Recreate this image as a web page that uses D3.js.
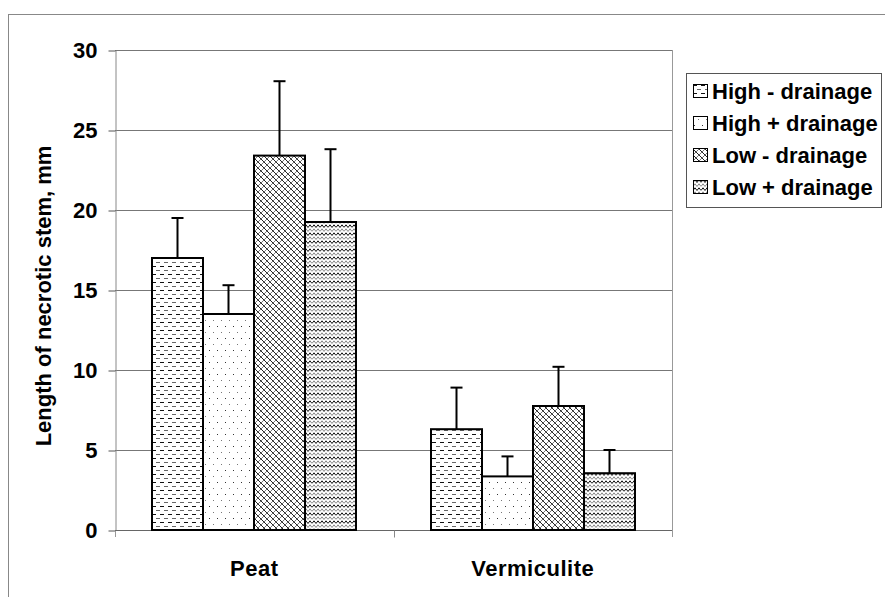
<!DOCTYPE html>
<html>
<head>
<meta charset="utf-8">
<script src="https://cdn.jsdelivr.net/npm/d3@7/dist/d3.min.js"></script>
<style>
  html, body { margin: 0; padding: 0; background: #fff; }
  svg { display: block; }
  text { font-family: "Liberation Sans", Arial, sans-serif; font-weight: bold; fill: #000; }
</style>
</head>
<body>
<svg id="chart" width="885" height="597"></svg>
<script>
// Substrate groups and treatment series
const categories = ["Peat", "Vermiculite"];
const seriesNames = ["High - drainage", "High + drainage", "Low - drainage", "Low + drainage"];
// Mean length of necrotic stem (mm), one array per treatment: [Peat, Vermiculite]
const highMinus = [17.0, 6.3];
const highPlus = [13.5, 3.35];
const lowMinus = [23.4, 7.75];
const lowPlus = [19.25, 3.55];
// Standard error bars (upper only)
const highMinusErr = [2.5, 2.6];
const highPlusErr = [1.8, 1.25];
const lowMinusErr = [4.65, 2.45];
const lowPlusErr = [4.55, 1.45];
const yTicks = [0, 5, 10, 15, 20, 25, 30];

const seriesValues = [highMinus, highPlus, lowMinus, lowPlus];
const seriesErrors = [highMinusErr, highPlusErr, lowMinusErr, lowPlusErr];
const patternIds = ["pat-hm", "pat-hp", "pat-lm", "pat-lp"];

const svg = d3.select("#chart");
const defs = svg.append("defs");

// Horizontal dashes, alternating dark and grey rows
{
  const p = defs.append("pattern").attr("id", "pat-hm").attr("patternUnits", "userSpaceOnUse")
    .attr("width", 8).attr("height", 8);
  p.append("rect").attr("width", 8).attr("height", 8).attr("fill", "#fff");
  p.append("path").attr("d", "M0,2.5h4").attr("stroke", "#111").attr("stroke-width", 1);
  p.append("path").attr("d", "M4,6.5h4").attr("stroke", "#666").attr("stroke-width", 1);
}
// Sparse dots
{
  const p = defs.append("pattern").attr("id", "pat-hp").attr("patternUnits", "userSpaceOnUse")
    .attr("width", 8).attr("height", 12);
  p.append("rect").attr("width", 8).attr("height", 12).attr("fill", "#fff");
  p.append("rect").attr("x", 1).attr("y", 2).attr("width", 1).attr("height", 1).attr("fill", "#333");
  p.append("rect").attr("x", 5).attr("y", 8).attr("width", 1).attr("height", 1).attr("fill", "#777");
}
// Diagonal cross-hatch
{
  const p = defs.append("pattern").attr("id", "pat-lm").attr("patternUnits", "userSpaceOnUse")
    .attr("width", 6).attr("height", 6);
  p.append("rect").attr("width", 6).attr("height", 6).attr("fill", "#fff");
  p.append("path").attr("d", "M0,0L6,6M-1,5L1,7M5,-1L7,1").attr("stroke", "#222").attr("stroke-width", 1);
  p.append("path").attr("d", "M0,6L6,0M-1,1L1,-1M5,7L7,5").attr("stroke", "#777").attr("stroke-width", 1);
}
// Wavy horizontal lines
{
  const p = defs.append("pattern").attr("id", "pat-lp").attr("patternUnits", "userSpaceOnUse")
    .attr("width", 8).attr("height", 8);
  p.append("rect").attr("width", 8).attr("height", 8).attr("fill", "#fff");
  p.append("path").attr("d", "M0,3.5L2,0.8L4,3.5L6,0.8L8,3.5").attr("fill", "none").attr("stroke", "#111").attr("stroke-width", 1);
  p.append("path").attr("d", "M0,7.5L2,4.8L4,7.5L6,4.8L8,7.5").attr("fill", "none").attr("stroke", "#888").attr("stroke-width", 1);
}

// Outer chart frame
svg.append("rect").attr("x", 8.5).attr("y", 14.5).attr("width", 890).attr("height", 600)
  .attr("fill", "none").attr("stroke", "#888").attr("stroke-width", 1);

const plot = { left: 115, right: 672, top: 50, bottom: 530 };

const y = d3.scaleLinear().domain([0, 30]).range([plot.bottom, plot.top]);
const x0 = d3.scaleBand().domain(categories).range([plot.left, plot.right]).paddingInner(0).paddingOuter(0);
const x1 = d3.scaleBand().domain(seriesNames).range([0, x0.bandwidth()]).paddingInner(0).paddingOuter(0.73);

// Horizontal gridlines
svg.append("g").selectAll("line").data(yTicks.filter(d => d > 0)).join("line")
  .attr("x1", plot.left).attr("x2", plot.right)
  .attr("y1", d => Math.round(y(d)) + 0.5).attr("y2", d => Math.round(y(d)) + 0.5)
  .attr("stroke", "#777").attr("stroke-width", 1);

// Right edge of plot area
svg.append("line").attr("x1", plot.right + 0.5).attr("x2", plot.right + 0.5)
  .attr("y1", plot.top).attr("y2", plot.bottom + 7)
  .attr("stroke", "#999").attr("stroke-width", 1);

// Y axis
const yAxis = svg.append("g").attr("transform", `translate(${plot.left + 0.5},0.5)`)
  .call(d3.axisLeft(y).tickValues(yTicks).tickSize(7).tickSizeOuter(0).tickPadding(11));
yAxis.select(".domain").attr("stroke", "#888");
yAxis.selectAll(".tick line").attr("stroke", "#555");
yAxis.selectAll(".tick text").style("font-size", "22px").style("font-family", "'Liberation Sans', Arial, sans-serif")
  .style("font-weight", "bold").attr("fill", "#000");
svg.append("line").attr("x1", plot.left + 0.5).attr("x2", plot.left + 0.5)
  .attr("y1", plot.bottom).attr("y2", plot.bottom + 7).attr("stroke", "#999");

// X axis
const xAxis = svg.append("g").attr("transform", `translate(0,${plot.bottom + 0.5})`);
xAxis.append("line").attr("x1", plot.left).attr("x2", plot.right).attr("stroke", "#666");
xAxis.append("line").attr("x1", Math.round(x0("Vermiculite")) + 0.5).attr("x2", Math.round(x0("Vermiculite")) + 0.5)
  .attr("y1", 0).attr("y2", 7).attr("stroke", "#888");
xAxis.selectAll("text").data(categories).join("text")
  .attr("x", d => x0(d) + x0.bandwidth() / 2).attr("y", 45)
  .attr("text-anchor", "middle").style("font-size", "22px").style("letter-spacing", "0.5px").text(d => d);

// Bars and error bars
const barData = [];
categories.forEach((c, ci) => {
  seriesNames.forEach((s, si) => {
    barData.push({ cat: c, series: s, si, value: seriesValues[si][ci], err: seriesErrors[si][ci] });
  });
});

const groups = svg.append("g");
const bx = d => Math.round(x0(d.cat) + x1(d.series));
const bw = Math.round(x1.bandwidth());

groups.selectAll("line.err").data(barData).join("line").attr("class", "err")
  .attr("x1", d => bx(d) + bw / 2).attr("x2", d => bx(d) + bw / 2)
  .attr("y1", d => y(d.value)).attr("y2", d => y(d.value + d.err))
  .attr("stroke", "#000").attr("stroke-width", 2);
groups.selectAll("line.cap").data(barData).join("line").attr("class", "cap")
  .attr("x1", d => bx(d) + bw / 2 - 6).attr("x2", d => bx(d) + bw / 2 + 6)
  .attr("y1", d => y(d.value + d.err)).attr("y2", d => y(d.value + d.err))
  .attr("stroke", "#000").attr("stroke-width", 2);

groups.selectAll("rect.bar").data(barData).join("rect").attr("class", "bar")
  .attr("x", d => bx(d)).attr("width", bw)
  .attr("y", d => y(d.value)).attr("height", d => y(0) - y(d.value))
  .attr("fill", d => `url(#${patternIds[d.si]})`)
  .attr("stroke", "#000").attr("stroke-width", 2);

// Y axis title
svg.append("text").attr("transform", "translate(51,296) rotate(-90)")
  .attr("text-anchor", "middle").style("font-size", "22px")
  .text("Length of necrotic stem, mm");

// Legend
const legend = svg.append("g");
legend.append("rect").attr("x", 686.5).attr("y", 73.5).attr("width", 195).attr("height", 134)
  .attr("fill", "#fff").attr("stroke", "#555").attr("stroke-width", 1);
const rowY = d3.scalePoint().domain(seriesNames).range([91, 187]);
const items = legend.selectAll("g.item").data(seriesNames).join("g").attr("class", "item")
  .attr("transform", d => `translate(693,${rowY(d)})`);
items.append("rect").attr("x", 0.5).attr("y", -6.5).attr("width", 14).attr("height", 13)
  .attr("fill", (d, i) => `url(#${patternIds[i]})`).attr("stroke", "#000").attr("stroke-width", 1);
items.append("text").attr("x", 19).attr("y", 8).style("font-size", "22px").text(d => d);
</script>
</body>
</html>
